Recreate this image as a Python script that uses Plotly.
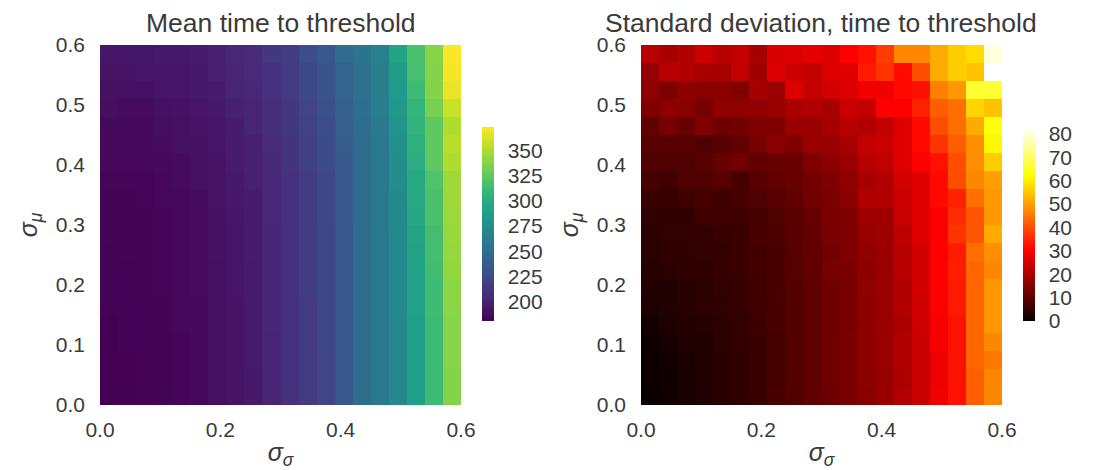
import plotly.graph_objects as go

x_centers = [0.015,0.045,0.075,0.105,0.135,0.165,0.195,0.225,0.255,0.285,0.315,0.345,0.375,0.405,0.435,0.465,0.495,0.525,0.555,0.585]
y_centers = [0.015,0.045,0.075,0.105,0.135,0.165,0.195,0.225,0.255,0.285,0.315,0.345,0.375,0.405,0.435,0.465,0.495,0.525,0.555,0.585]
tick_vals = [0.0,0.2,0.4,0.6]
tick_text = ["0.0","0.2","0.4","0.6"]
y_tick_vals = [0.0,0.1,0.2,0.3,0.4,0.5,0.6]
y_tick_text = ["0.0","0.1","0.2","0.3","0.4","0.5","0.6"]

# rows listed bottom (y=0) to top (y=0.6)
mean_time = [
 [181,181,182,183,184,185,189,191,194,200,208,214,221,233,248,258,271,289,312,337],
 [181,181,182,183,184,185,189,191,194,200,208,214,221,233,248,258,271,289,312,337],
 [181,181,182,183,184,186,189,191,195,200,208,214,221,233,248,258,271,289,312,338],
 [181,182,182,183,184,186,189,191,195,200,208,214,222,233,248,258,271,289,312,338],
 [181,182,182,183,185,186,189,191,195,201,208,214,222,233,248,258,271,289,312,338],
 [182,182,182,183,185,186,189,191,195,201,208,214,222,234,248,258,272,290,313,339],
 [182,182,183,184,185,187,189,192,195,201,208,215,222,234,248,258,272,290,313,340],
 [182,182,183,184,185,187,189,192,195,201,208,215,222,234,248,258,272,291,314,341],
 [182,183,183,184,185,187,190,192,196,201,208,215,222,234,248,258,272,292,315,342],
 [183,183,183,184,185,187,190,192,196,201,208,215,222,234,248,258,272,293,315,343],
 [183,183,183,184,185,187,190,193,196,202,208,215,223,235,248,258,273,295,317,344],
 [183,183,184,185,185,187,191,194,196,202,208,215,223,235,248,258,273,296,317,345],
 [184,184,184,185,187,189,191,194,198,202,208,216,223,235,248,258,275,296,319,345],
 [185,185,185,186,187,189,191,196,198,202,210,217,225,235,248,258,275,300,325,350],
 [185,186,186,187,189,190,192,196,198,204,210,217,225,237,248,258,277,302,325,352],
 [186,186,186,188,189,191,193,196,200,206,212,219,227,239,249,260,281,306,325,350],
 [188,187,187,189,190,192,194,198,200,206,212,221,229,239,250,262,283,308,333,358],
 [190,190,190,192,192,194,196,200,202,208,214,223,231,242,252,264,285,312,337,367],
 [191,191,192,193,193,194,198,200,204,208,214,223,231,242,252,264,286,316,337,371],
 [193,193,193,194,194,196,198,202,204,212,216,227,233,248,254,265,292,317,338,372],
]
std_time = [
 [0,0.6,1.6,2.6,3.6,4.6,5.6,7.6,8.6,10.6,12,13.5,15.5,17.5,20.5,23.5,28.4,32.4,41.9,47],
 [0.2,0.8,1.8,2.8,3.6,4.6,5.6,7.4,8.8,10.6,12.3,13.9,16.1,17.2,20,23.7,28.1,32.4,41.9,47],
 [0.3,1,2,2.8,3.6,4.6,5.6,7.4,8.8,10.6,12.3,13.9,16.1,17.7,20.5,23.7,28.1,32.4,43,45],
 [0.5,1.5,2.6,2.8,3.8,4.8,5.8,7.4,9,10.6,12.3,13.9,16.1,17.7,20.5,23.7,29.2,32.4,43,47],
 [1,2.4,3,3.2,4.2,5,6.2,7.6,9,10.6,12.3,13.4,16.1,17.7,19.9,24.3,29.2,32.4,43,49.2],
 [2.2,2.6,3.5,3.8,4.6,5.4,6.6,7.6,9,10.6,12.3,13.9,16.1,17.7,20.5,24.3,29.8,33.5,43,49.2],
 [2.8,2.6,3.6,4.2,4.8,5.4,7,8,9,10.6,12.3,13.4,16.6,17.7,20.5,24.8,30.3,33.5,43,49.2],
 [3.4,4,4.4,4.6,5.2,5.8,7,8,9.4,10.6,13.4,13.9,16.1,17.7,21.6,24.8,30.3,34,43,47],
 [3.8,4.4,4.6,5,5.2,5.8,7,8,9.4,10.6,12.8,14.5,16.6,17.7,21.6,24.8,30.3,33.5,44,48],
 [4.2,4.6,5,5,5.6,6,7.6,8.2,9.8,10.8,13.9,14.5,17.2,18.3,22.1,26.5,30.3,36.6,40.8,51.4],
 [4.6,4.6,4.6,6.3,6.3,6.3,7.4,8.5,9.5,11.7,13.9,14.5,18.3,18.3,23.7,26.5,30.3,35.6,40.8,49.2],
 [5.7,5.7,6.3,7.4,6.3,7.4,8.5,9.5,10.6,12.8,13.9,15.6,20.5,20.5,23.7,26.5,31.4,34.5,44,49.2],
 [7.4,6.3,8.5,8.5,9.5,7.4,9.5,10.6,11.7,12.8,14.5,16.6,19.4,20.5,24.8,26.5,31.4,39.8,47,50],
 [8.5,8.5,8.5,9.5,11.7,12.8,10.6,11.7,11.7,14.5,16.1,17.7,21.6,22.7,26.5,30.3,32.4,39.8,48,55.6],
 [9.5,9.5,9.5,8.5,9.5,10.6,13.4,15.6,14.5,17.7,17.7,19.4,22.7,23.7,26.5,31.4,36.6,41.9,48,61],
 [10.6,13.4,11.7,14.5,12.3,12.8,14.5,14.5,17.7,17.7,19.4,21.6,20.5,22.7,26.5,31.4,39.8,44,51.4,63],
 [14.5,16.1,15.6,13.4,16.6,16.6,16.6,17.7,19.4,20.5,19.4,23.7,22.7,30.3,30.3,34.5,41.9,44,56.6,54.5],
 [16.6,13.9,16.1,15.6,15.6,14.5,19.4,17.7,25.9,22.7,24.8,25.9,28.7,28.7,31.4,32.4,46,49.2,66,66],
 [17.2,21.6,20.5,19.4,19.4,22.7,18.3,25.9,23.7,22.7,25.9,26.5,33.5,36.6,31.4,39.8,51.4,55.6,54.5,83],
 [21.6,19.4,20.5,23.7,21.6,22.7,19.4,25.4,25.9,27,25.9,30.3,32.4,37.7,47,47,51.4,55.6,57.7,80],
]

# matplotlib "hot" anchor colours
hot_scale = [
 [0.0, "rgb(11,0,0)"],
 [0.365, "rgb(255,0,0)"],
 [0.746, "rgb(255,255,0)"],
 [1.0, "rgb(255,255,255)"],
]

W, H = 1097, 470
ink = "#3a3a3a"
font = "Liberation Sans"
TICK = 21
TITLE = 26.5
LABEL = 25

def cbar(xpx, ticks):
    return dict(
        x=xpx / W, xanchor="left", xref="paper",
        y=1 - 321 / H, yanchor="bottom", yref="paper",
        lenmode="pixels", len=194, thicknessmode="pixels", thickness=12,
        xpad=0, ypad=0,
        outlinewidth=0, ticks="outside", ticklen=10, tickcolor="rgba(0,0,0,0)",
        tickvals=ticks, ticktext=[str(t) for t in ticks],
        tickfont=dict(size=TICK, color=ink, family=font),
    )

fig = go.Figure()
fig.add_trace(go.Heatmap(
    x=x_centers, y=y_centers, z=mean_time, colorscale="Viridis",
    zmin=181, zmax=373, xaxis="x", yaxis="y", xgap=0, ygap=0,
    colorbar=cbar(482, [200,225,250,275,300,325,350]),
))
fig.add_trace(go.Heatmap(
    x=x_centers, y=y_centers, z=std_time, colorscale=hot_scale,
    zmin=0, zmax=83, xaxis="x2", yaxis="y2", xgap=0, ygap=0,
    colorbar=cbar(1023, [0,10,20,30,40,50,60,70,80]),
))

def xax(l, r, title):
    return dict(domain=[l / W, r / W], range=[0, 0.6], tickvals=tick_vals, ticktext=tick_text,
                showgrid=False, zeroline=False, showline=False, ticks="", ticklabelstandoff=10,
                tickfont=dict(size=TICK, color=ink, family=font),
                title=dict(text=title, standoff=10, font=dict(size=LABEL, color=ink, family=font)))

def yax(anchor, title):
    return dict(domain=[1 - 405 / H, 1 - 45 / H], range=[0, 0.6], tickvals=y_tick_vals, ticktext=y_tick_text,
                anchor=anchor, showgrid=False, zeroline=False, showline=False, ticks="", ticklabelstandoff=14,
                tickfont=dict(size=TICK, color=ink, family=font),
                title=dict(text=title, standoff=11, font=dict(size=LABEL, color=ink, family=font)))

sig_s = "<i>σ</i><sub><i>σ</i></sub>"
sig_m = "<i>σ</i><sub><i>μ</i></sub>"
fig.update_layout(
    width=W, height=H, margin=dict(l=0, r=0, t=0, b=0, autoexpand=False),
    paper_bgcolor="white", plot_bgcolor="white", showlegend=False,
    xaxis=xax(100, 461, sig_s), yaxis=yax("x", sig_m),
    xaxis2=dict(xax(641, 1002, sig_s), anchor="y2"), yaxis2=yax("x2", sig_m),
    annotations=[
        dict(text="Mean time to threshold", x=281 / W, y=1 - 23 / H, xref="paper", yref="paper",
             showarrow=False, xanchor="center", yanchor="middle", font=dict(size=TITLE, color=ink, family=font)),
        dict(text="Standard deviation, time to threshold", x=821 / W, y=1 - 23 / H, xref="paper", yref="paper",
             showarrow=False, xanchor="center", yanchor="middle", font=dict(size=TITLE, color=ink, family=font)),
    ],
)
fig.write_html("out.html", post_script="document.body.style.margin='0';", config={"displayModeBar": False})
